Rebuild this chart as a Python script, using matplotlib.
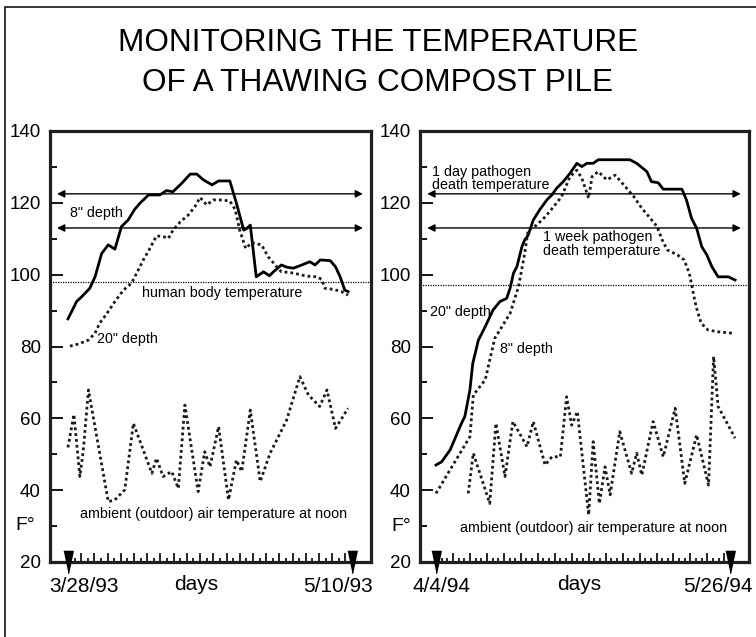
import matplotlib.pyplot as plt
from matplotlib.patches import Rectangle
from matplotlib.ticker import FixedLocator, MultipleLocator
import numpy as np

plt.rcParams['font.family'] = ['Liberation Sans', 'DejaVu Sans']

# 1993 pile, x = days after 3/28/93
days93_8in = [0, 1.3, 2.1, 3.3, 4.1, 5.1, 6.1, 7.1, 8.1, 9.1, 10.1, 10.9, 12.2, 13.9, 14.9,
              15.9, 17.2, 18.5, 19.5, 20.5, 21.8, 22.8, 24.5, 25.5, 26.6, 27.1, 27.6, 28.5,
              29.6, 30.5, 31.1, 32.3, 33.1, 34.1, 35.4, 36.6, 37.4, 38.2, 39.7, 40.5, 41.2,
              41.9, 42.4]
temp93_8in = [87.7, 92.5, 93.9, 96.2, 99.4, 105.9, 108.3, 107.1, 113.4, 115.2, 118.2, 119.9,
              122.2, 122.2, 123.4, 123.1, 125.4, 128, 128, 126.4, 125, 126.1, 126.1, 119.9,
              112.4, 112.9, 113.8, 99.4, 100.8, 99.7, 100.8, 102.7, 102.1, 101.8, 102.7,
              103.6, 102.7, 104.1, 103.9, 102.2, 99.4, 95.7, 95.3]
days93_20in = [0.3, 1.6, 3.1, 4.1, 4.8, 5.9, 7.1, 8.4, 9.6, 10.4, 11.4, 12.4, 13.4, 14.4, 15.2,
               15.9, 17, 18.2, 19.2, 20, 21, 22, 23.3, 24.5, 25.3, 26, 26.9, 27.8, 29.3, 30.3,
               31.6, 32.3, 33.6, 34.7, 36.1, 37.7, 38.4, 38.9, 40.2, 41.4, 42.4]
temp93_20in = [80.1, 80.7, 81.8, 83.7, 86.5, 89.2, 92.5, 95.7, 97.6, 100.4, 104.1, 107.3, 110.8,
               110.6, 110.1, 112.4, 114.7, 116.6, 118.9, 121.5, 119.4, 120.8, 120.8, 120.5,
               118.2, 112.4, 107.3, 108.9, 108.3, 105, 102.2, 100.8, 100.6, 100.2, 99.6, 99.4,
               98.7, 96.2, 95.9, 95.3, 94.3]
days93_air = [0, 0.9, 1.8, 2.3, 3.1, 6.1, 7.1, 8.6, 9.9, 12.7, 13.4, 14.4, 15.7, 16.7, 17.7,
              19.7, 20.7, 21.5, 22.8, 24.3, 25.5, 26.3, 27.6, 29.1, 30.6, 33.1, 35.1, 36.4,
              38.1, 39.2, 40.5, 42.4]
temp93_air = [51.9, 61.1, 43.8, 50.7, 67.9, 36.8, 37.3, 40.1, 58.6, 44.7, 48.9, 43.8, 45.2,
              40.5, 63.7, 39.6, 50.7, 46.5, 57.7, 37.3, 48.4, 45.2, 62.3, 42.4, 50.3, 59.5,
              71.6, 66.5, 63.3, 67.9, 57.2, 62.8]

# 1994 pile, x = days after 4/4/94
days94_20in = [0, 1, 2.5, 4.5, 5.1, 6, 6.5, 7.5, 8.7, 10.1, 11.3, 12.5, 13.1, 13.7, 14.3, 15.2,
               15.7, 16.3, 17.2, 18.4, 19.6, 20.5, 21.3, 22.5, 23.7, 24.9, 25.8, 26.7, 27.8,
               28.7, 29.6, 34.3, 35.5, 37.3, 38.1, 39.3, 40.2, 43.5, 44.3, 45.2, 46.1, 47,
               47.9, 48.8, 49.9, 51.7, 52.9]
temp94_20in = [47, 47.9, 51.2, 58.6, 60.5, 67.9, 75.3, 81.8, 85.5, 90.2, 92.5, 93.4, 96.2,
               100.4, 102.2, 107.8, 109.7, 111, 115.2, 118.2, 120.8, 122.2, 124, 125.9, 128.2,
               131, 130.1, 131, 131, 132, 132, 132, 131, 128.7, 125.9, 125.6, 123.8, 123.8,
               120.8, 115.7, 112.9, 107.8, 105.5, 102.2, 99.4, 99.4, 98.5]
days94_8in = [0, 6, 6.6, 8.7, 10.4, 13.1, 14.6, 15.7, 16.3, 17.8, 19.3, 20.8, 22.2, 23.7, 24.9,
              25.8, 27, 27.6, 28.7, 30.2, 31.7, 33.2, 35, 36.4, 37.9, 39.1, 40, 40.9, 42.7,
              43.9, 44.8, 45.4, 46, 46.9, 48.1, 49.8, 52.5]
temp94_8in = [39.1, 54.9, 66.5, 70.7, 82.3, 89.2, 96.7, 106, 112.4, 113.8, 116.1, 118.9, 121.7,
              127.3, 129.1, 126.8, 121.3, 127.3, 128.7, 126.4, 127.7, 125, 121.7, 118.5, 115.7,
              113.4, 109.7, 106.9, 105.5, 104.1, 100.4, 95.7, 91.1, 86.5, 84.6, 84.1, 83.7]
days94_air = [5.7, 6.6, 9.5, 10.6, 12.2, 13.6, 16.1, 17.2, 19.3, 20.5, 22, 23.1, 24, 25, 27,
              27.8, 28.9, 29.9, 30.8, 32.5, 34.6, 35.5, 36.4, 38.4, 40.2, 42.3, 44, 46.1, 48.2,
              49.1, 49.9, 52.9]
temp94_air = [39.1, 50.3, 36.3, 58.6, 43.8, 59.1, 52.1, 59.1, 47, 49.3, 49.3, 66, 58.1, 61.9,
              33.1, 53.5, 36.3, 46.5, 38.7, 56.3, 44.7, 50.3, 44.2, 59.1, 49.3, 62.8, 41.9,
              55.4, 41.4, 77.2, 63.3, 54.5]

body_temp = [98, 97]          # human body temperature line, 1993 / 1994
pathogen_temp = [122.5, 113]  # 1 day / 1 week pathogen death temperature
n_days = [43, 52]
dates = [('3/28/93', '5/10/93'), ('4/4/94', '5/26/94')]

W, H = 756, 637
fig = plt.figure(figsize=(W / 100, H / 100), dpi=100)

# border round the whole slide (only top and left show)
fig.add_artist(Rectangle((5 / W, -0.1), 1.2, 0.1 + 1 - 7 / H, transform=fig.transFigure,
                         fill=False, lw=1.1, ec='k'))

fig.text(0.5, 1 - 43 / H, 'MONITORING THE TEMPERATURE', ha='center', va='center', fontsize=22.7)
fig.text(0.5, 1 - 83 / H, 'OF A THAWING COMPOST PILE', ha='center', va='center', fontsize=22.7)

ax1 = fig.add_axes([50 / W, 1 - 562 / H, 321 / W, 431 / H])
ax2 = fig.add_axes([420 / W, 1 - 562 / H, 329 / W, 431 / H])

tri = [(-0.42, 1), (0.42, 1), (0, -1)]   # tall narrow down-pointing arrow head


def setup(ax, nd, xlim, major_step, date_pair, date_x, days_x):
    ax.set_xlim(*xlim)
    ax.set_ylim(20, 140)
    for s in ax.spines.values():
        s.set_linewidth(2.3)
        s.set_color('0.12')
    ax.yaxis.set_major_locator(MultipleLocator(20))
    ax.yaxis.set_minor_locator(MultipleLocator(10))
    ax.xaxis.set_major_locator(FixedLocator(np.arange(0, nd + 1, major_step)))
    ax.xaxis.set_minor_locator(FixedLocator(np.arange(0, nd + 1)))
    ax.tick_params(axis='y', which='major', direction='in', length=9, width=1.3, pad=6.5,
                   labelsize=13.5)
    ax.tick_params(axis='y', which='minor', direction='in', length=5, width=1.3)
    ax.tick_params(axis='x', which='major', direction='in', length=6.5, width=1.2)
    ax.tick_params(axis='x', which='minor', direction='in', length=3, width=1.2)
    ax.set_xticklabels([])
    # start / end markers
    ax.plot([0, nd], [20, 20], ls='none', marker=tri, ms=16, color='k', clip_on=False, zorder=5)
    tr = ax.get_xaxis_transform()
    ax.text(date_x[0], -0.058, date_pair[0], transform=tr, ha='center', va='center', fontsize=15)
    ax.text(date_x[1], -0.058, date_pair[1], transform=tr, ha='center', va='center', fontsize=15)
    ax.text(days_x, -0.053, 'days', transform=tr, ha='center', va='center', fontsize=15)
    # pathogen arrows
    ya = ax.get_yaxis_transform()
    for t in pathogen_temp:
        ax.annotate('', xy=(0.975, t), xytext=(0.022, t), xycoords=ya, textcoords=ya,
                    arrowprops=dict(arrowstyle='<|-|>', color='k', lw=1.0, mutation_scale=11,
                                    shrinkA=0, shrinkB=0))


setup(ax1, n_days[0], (-2.72, 45.87), 2, dates[0], (2.4, 40.9), 19.4)
setup(ax2, n_days[1], (-2.83, 55.36), 3, dates[1], (0.9, 49.9), 25.3)

dot = (0, (1, 1.1))
# 1993
ax1.plot(days93_8in, temp93_8in, color='k', lw=2.0)
ax1.plot(days93_20in, temp93_20in, color='0.1', lw=2.0, ls=dot)
ax1.plot(days93_air, temp93_air, color='0.1', lw=2.0, ls=dot)
ax1.axhline(body_temp[0], color='k', lw=0.9, ls=(0, (1, 1)))
ax1.text(0.3, 117.2, '8" depth', fontsize=10.3, va='center')
ax1.text(23.3, 94.9, 'human body temperature', fontsize=10.3, ha='center', va='center')
ax1.text(4.4, 82.1, '20" depth', fontsize=10.3, va='center')
ax1.text(22, 33.4, 'ambient (outdoor) air temperature at noon', fontsize=10.3,
         ha='center', va='center')
ax1.text(-6.5, 30.3, 'F°', fontsize=14, ha='center', va='center', clip_on=False)

# 1994
ax2.plot(days94_20in, temp94_20in, color='k', lw=2.0)
ax2.plot(days94_8in, temp94_8in, color='0.1', lw=2.0, ls=dot)
ax2.plot(days94_air, temp94_air, color='0.1', lw=2.0, ls=dot)
ax2.axhline(body_temp[1], color='k', lw=0.9, ls=(0, (1, 1)))
ax2.text(-0.7, 126.8, '1 day pathogen\ndeath temperature', fontsize=10.3, va='center',
         linespacing=0.95)
ax2.text(18.9, 108.5, '1 week pathogen\ndeath temperature', fontsize=10.3, va='center',
         linespacing=0.95)
ax2.text(-1.06, 89.6, '20" depth', fontsize=10.3, va='center')
ax2.text(11.3, 79.3, '8" depth', fontsize=10.3, va='center')
ax2.text(27.8, 29.5, 'ambient (outdoor) air temperature at noon', fontsize=10.3,
         ha='center', va='center')
ax2.text(-6.2, 30, 'F°', fontsize=14, ha='center', va='center', clip_on=False)

fig.savefig('out.png', dpi=100)
